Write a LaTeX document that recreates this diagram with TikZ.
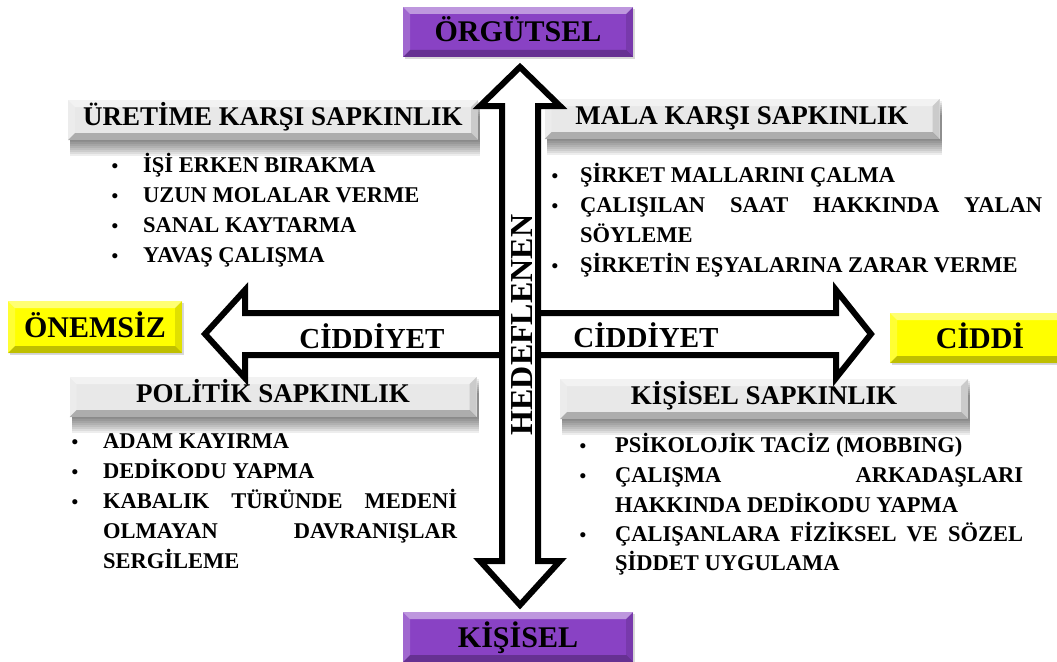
\documentclass[tikz,border=0pt]{standalone}
\usepackage{fontspec}
\setmainfont{Liberation Serif}
\usepackage{tikz}
\usetikzlibrary{shadows}
\definecolor{violetbox}{RGB}{137,66,196}
\definecolor{yellowbox}{RGB}{255,255,0}

\begin{document}
\begin{tikzpicture}[x=1pt,y=-1pt,line join=miter,
                    bigarrow/.style={draw=black,fill=white,line width=6pt},
                    item/.style={anchor=base west,inner sep=0pt,
                                 font=\bfseries\fontsize{22.5}{27}\selectfont},
                    dot/.style={anchor=base,inner sep=0pt,
                                font=\bfseries\fontsize{19}{20}\selectfont},
                    softshadow/.style={drop shadow={shadow xshift=2pt,
                                 shadow yshift=-#1,opacity=.07,fill=black}}]
\tikzstyle{bevel}=[path picture={
  \path (path picture bounding box.north west) coordinate (bnw)
        (path picture bounding box.north east) coordinate (bne)
        (path picture bounding box.south west) coordinate (bsw)
        (path picture bounding box.south east) coordinate (bse);
  \fill[white,opacity=.45] (bnw) -- (bne) -- ([xshift=-7pt,yshift=-7pt]bne)
        -- ([xshift=7pt,yshift=-7pt]bnw) -- cycle;
  \fill[white,opacity=.2] (bnw) -- ([xshift=7pt,yshift=-7pt]bnw)
        -- ([xshift=7pt,yshift=7pt]bsw) -- (bsw) -- cycle;
  \fill[black,opacity=.25] (bsw) -- (bse) -- ([xshift=-7pt,yshift=7pt]bse)
        -- ([xshift=7pt,yshift=7pt]bsw) -- cycle;
  \fill[black,opacity=.12] (bne) -- ([xshift=-7pt,yshift=-7pt]bne)
        -- ([xshift=-7pt,yshift=7pt]bse) -- (bse) -- cycle;}]
\tikzstyle{purplebox}=[bevel,fill=violetbox,minimum width=230,minimum height=50,
    text height=20pt,text depth=0pt,font=\bfseries\fontsize{30}{30}\selectfont,
    drop shadow={shadow xshift=2pt,shadow yshift=-2pt,opacity=.3}]
\tikzstyle{yellowbox}=[purplebox,fill=yellowbox]
\tikzstyle{graybar}=[bevel,fill=gray!18,minimum height=40,
    text height=18pt,text depth=8pt,font=\bfseries\fontsize{27}{30}\selectfont,
    softshadow=2pt,softshadow=4pt,softshadow=6pt,softshadow=8pt,
    softshadow=10pt,softshadow=12pt,softshadow=14pt,softshadow=16pt]

\useasboundingbox (0,0) rectangle (1057,661);

% header bars
\node[graybar,minimum width=410] (uretim) at (273,120) {ÜRETİME KARŞI SAPKINLIK};
\node[graybar,minimum width=395] (mal) at (742,119) {MALA KARŞI SAPKINLIK};
\node[graybar,minimum width=407] (politik) at (273,397) {POLİTİK SAPKINLIK};
\node[graybar,minimum width=408] (kisiselsap) at (764,399) {KİŞİSEL SAPKINLIK};

% arrows
\draw[bigarrow] (205,334) -- (245,290) -- (245,313) -- (836,313) -- (836,290)
   -- (871,334) -- (836,378) -- (836,355) -- (245,355) -- (245,378) -- cycle;
\draw[bigarrow] (520,67) -- (560,106) -- (538,106) -- (538,561) -- (560,561)
   -- (520,605) -- (480,561) -- (502,561) -- (502,106) -- (480,106) -- cycle;
\node[rotate=90,anchor=base,inner sep=0pt,font=\bfseries\fontsize{32}{32}\selectfont]
   (hedef) at (532,325) {HEDEFLENEN};
\node[anchor=base,inner sep=0pt,font=\bfseries\fontsize{29}{30}\selectfont]
   (ciddiyetl) at (372,348) {CİDDİYET};
\node[anchor=base,inner sep=0pt,font=\bfseries\fontsize{29}{30}\selectfont]
   (ciddiyetr) at (646,347) {CİDDİYET};

% end boxes
\node[purplebox] (orgut) at (518,32) {ÖRGÜTSEL};
\node[purplebox] (kisi) at (518,637) {KİŞİSEL};
\node[yellowbox,minimum width=174,minimum height=52] (onemsiz) at (95,327) {ÖNEMSİZ};
\node[yellowbox,minimum width=180] (ciddi) at (980,338) {CİDDİ};

% lists
\foreach \x/\y [count=\i] in {115/172,115/202,115/232,115/262,555/182,555/212,
    555/272,75/448,75/478,75/508,583/452,583/482,583/541}
  \node[dot] (b\i) at (\x,\y) {•};

\node[item] (u1) at (143,172) {İŞİ ERKEN BIRAKMA};
\node[item] (u2) at (143,202) {UZUN MOLALAR VERME};
\node[item] (u3) at (143,232) {SANAL KAYTARMA};
\node[item] (u4) at (143,262) {YAVAŞ ÇALIŞMA};

\node[item] (m1) at (580,182) {ŞİRKET MALLARINI ÇALMA};
\node[item] (m2) at (580,212) {\hbox to 462pt{ÇALIŞILAN\hfill SAAT\hfill HAKKINDA\hfill YALAN}};
\node[item] (m3) at (580,242) {SÖYLEME};
\node[item] (m4) at (580,272) {ŞİRKETİN EŞYALARINA ZARAR VERME};

\node[item] (p1) at (103,448) {ADAM KAYIRMA};
\node[item] (p2) at (103,478) {DEDİKODU YAPMA};
\node[item] (p3) at (103,508) {\hbox to 354pt{KABALIK\hfill TÜRÜNDE\hfill MEDENİ}};
\node[item] (p4) at (103,538) {\hbox to 354pt{OLMAYAN\hfill DAVRANIŞLAR}};
\node[item] (p5) at (103,568) {SERGİLEME};

\node[item] (k1) at (615,452) {PSİKOLOJİK TACİZ (MOBBING)};
\node[item] (k2) at (615,482) {\hbox to 408pt{ÇALIŞMA\hfill ARKADAŞLARI}};
\node[item] (k3) at (615,512) {HAKKINDA DEDİKODU YAPMA};
\node[item] (k4) at (615,541) {\hbox to 408pt{ÇALIŞANLARA\hfill FİZİKSEL\hfill VE\hfill SÖZEL}};
\node[item] (k5) at (615,570) {ŞİDDET UYGULAMA};
\end{tikzpicture}
\end{document}
